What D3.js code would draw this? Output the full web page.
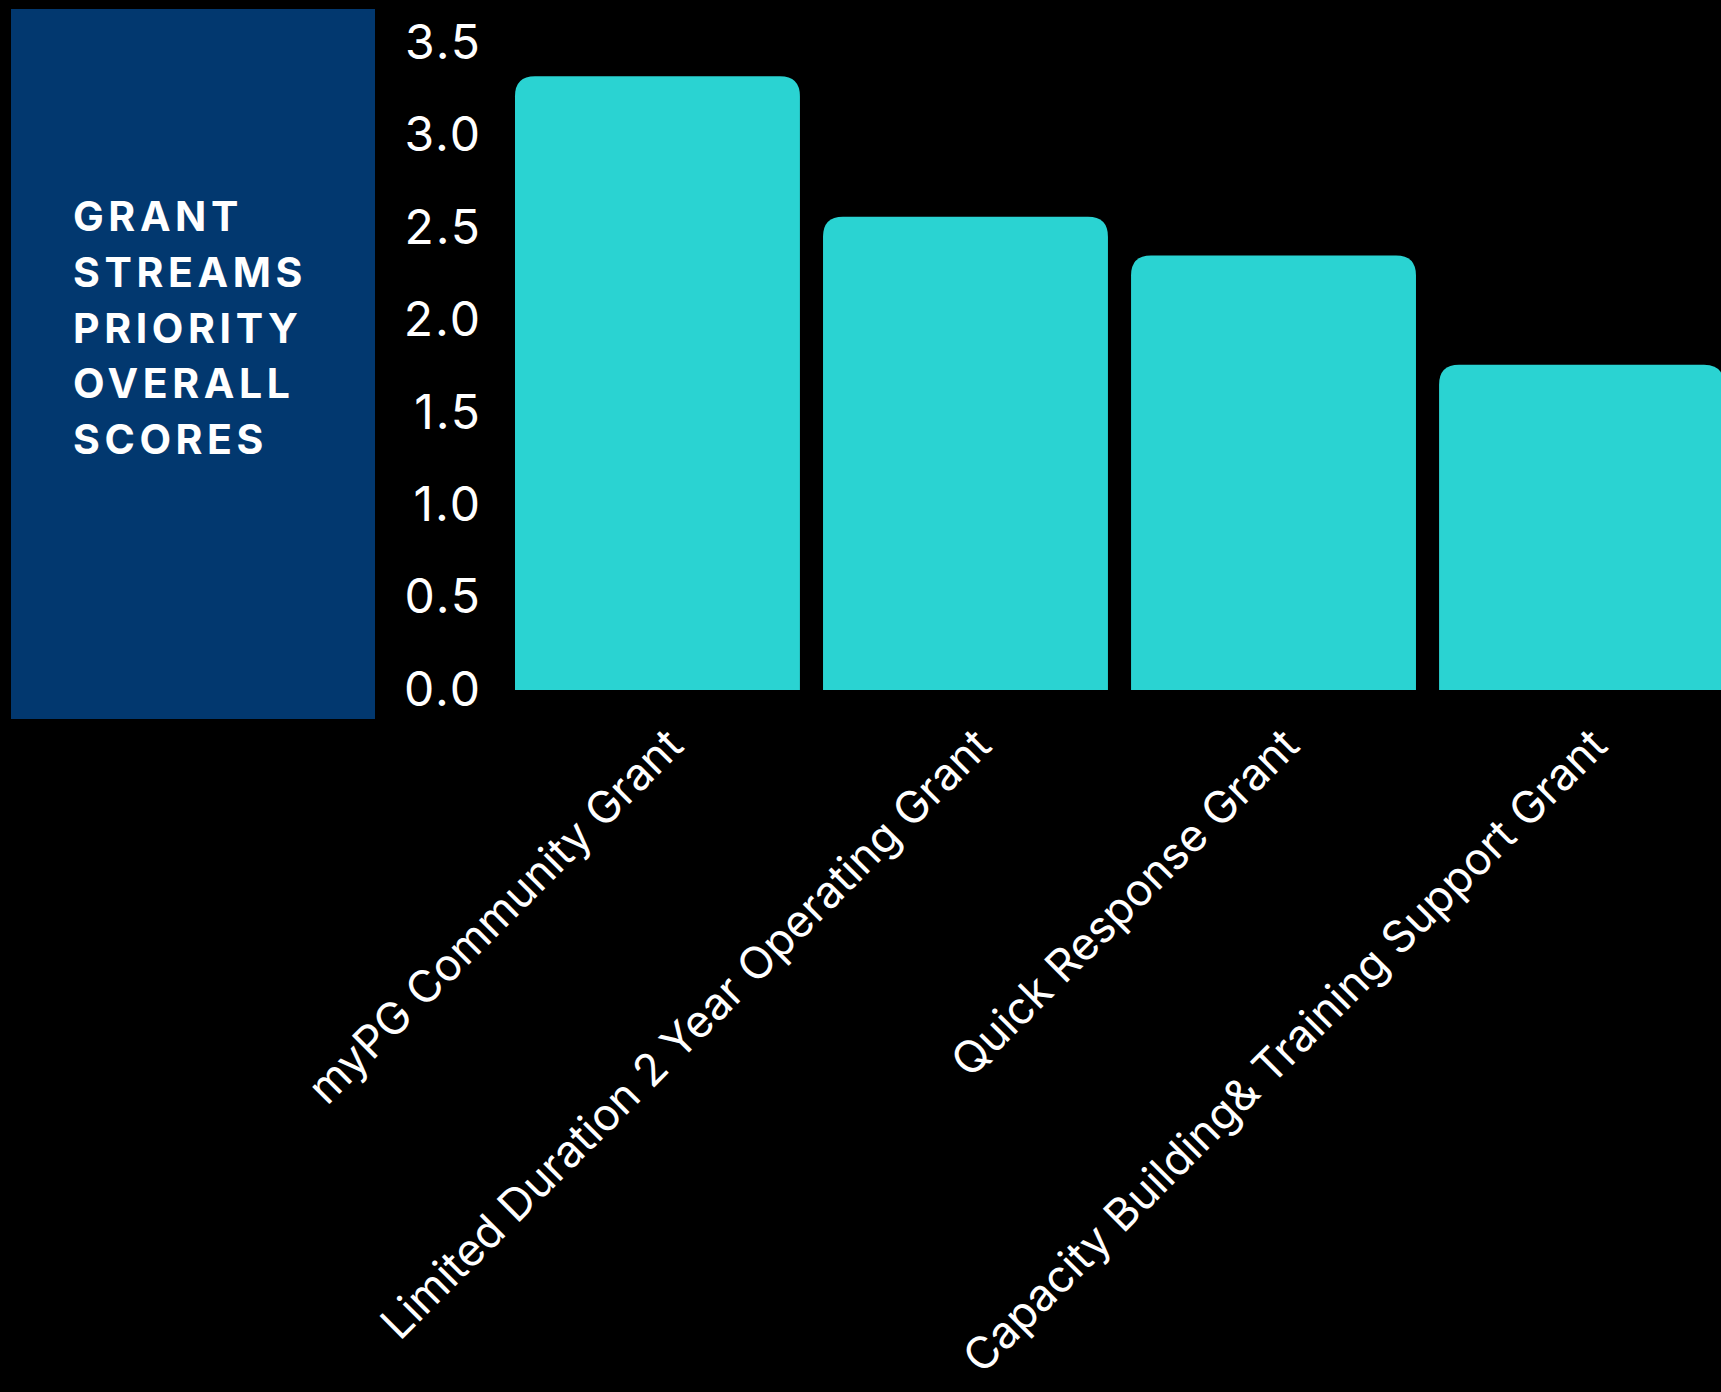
<!DOCTYPE html>
<html>
<head>
<meta charset="utf-8">
<script src="https://cdn.jsdelivr.net/npm/d3@7"></script>
<style>
  html, body { margin: 0; padding: 0; background: #000; }
  #chart { width: 1721px; height: 1392px; }
</style>
</head>
<body>
<div id="chart"></div>
<script>
// data
var grantStreams = ["myPG Community Grant", "Limited Duration 2 Year Operating Grant", "Quick Response Grant", "Capacity Building& Training Support Grant"];
var overallScores = [3.32, 2.56, 2.35, 1.76];
var yTicks = [0, 0.5, 1, 1.5, 2, 2.5, 3, 3.5];
var titleLines = ["GRANT", "STREAMS", "PRIORITY", "OVERALL", "SCORES"];

function drawChart() {
    var width = 1721, height = 1392;
    var barColor = "#2AD3D2";
    var panelColor = "#02386F";

    var svg = d3.select("#chart").append("svg")
      .attr("width", width)
      .attr("height", height)
      .style("background", "#000");

    // title panel on the left
    svg.append("rect")
      .attr("x", 11)
      .attr("y", 9)
      .attr("width", 364)
      .attr("height", 710)
      .attr("fill", panelColor);

    svg.append("g")
      .selectAll("text")
      .data(titleLines)
      .enter()
      .append("text")
      .attr("x", 73)
      .attr("y", (d, i) => 231 + i * 55.8)
      .attr("fill", "#fff")
      .style("font-family", "Inter, 'DejaVu Sans', sans-serif")
      .style("font-weight", 700)
      .style("font-size", "41px")
      .style("letter-spacing", "4.6px")
      .text(d => d);

    // scales
    var x = d3.scaleBand()
      .domain(grantStreams)
      .range([515, 1724])
      .paddingInner(0.075)
      .paddingOuter(0);

    var y = d3.scaleLinear()
      .domain([0, 3.5])
      .range([690, 43]);

    // bars with rounded top corners only
    var r = 20;
    function barPath(d, i) {
      var x0 = x(grantStreams[i]), x1 = x0 + x.bandwidth();
      var y0 = y(0), y1 = y(d);
      return "M" + x0 + "," + y0 +
        "V" + (y1 + r) +
        "Q" + x0 + "," + y1 + " " + (x0 + r) + "," + y1 +
        "H" + (x1 - r) +
        "Q" + x1 + "," + y1 + " " + x1 + "," + (y1 + r) +
        "V" + y0 + "Z";
    }

    svg.append("g")
      .selectAll("path")
      .data(overallScores)
      .enter()
      .append("path")
      .attr("d", barPath)
      .attr("fill", barColor);

    // y axis
    var yAxis = svg.append("g")
      .attr("transform", "translate(492,0)")
      .call(d3.axisLeft(y).tickValues(yTicks).tickSize(0).tickPadding(10).tickFormat(d3.format(".1f")));
    yAxis.select(".domain").remove();
    yAxis.selectAll("text")
      .attr("fill", "#fff")
      .style("font-family", "Inter, 'DejaVu Sans', sans-serif")
      .style("font-size", "48px")
      .style("letter-spacing", "2px");

    // x axis, labels turned 45 degrees
    var xAxis = svg.append("g")
      .attr("transform", "translate(0,690)")
      .call(d3.axisBottom(x).tickSize(0));
    xAxis.select(".domain").remove();
    xAxis.selectAll("text")
      .attr("x", 0)
      .attr("y", 0)
      .attr("dy", 0)
      .attr("text-anchor", "end")
      .attr("transform", "translate(28,58) rotate(-45)")
      .attr("fill", "#fff")
      .style("font-family", "Inter, 'DejaVu Sans', sans-serif")
      .style("font-size", "44.5px");
}

drawChart();
</script>
</body>
</html>
